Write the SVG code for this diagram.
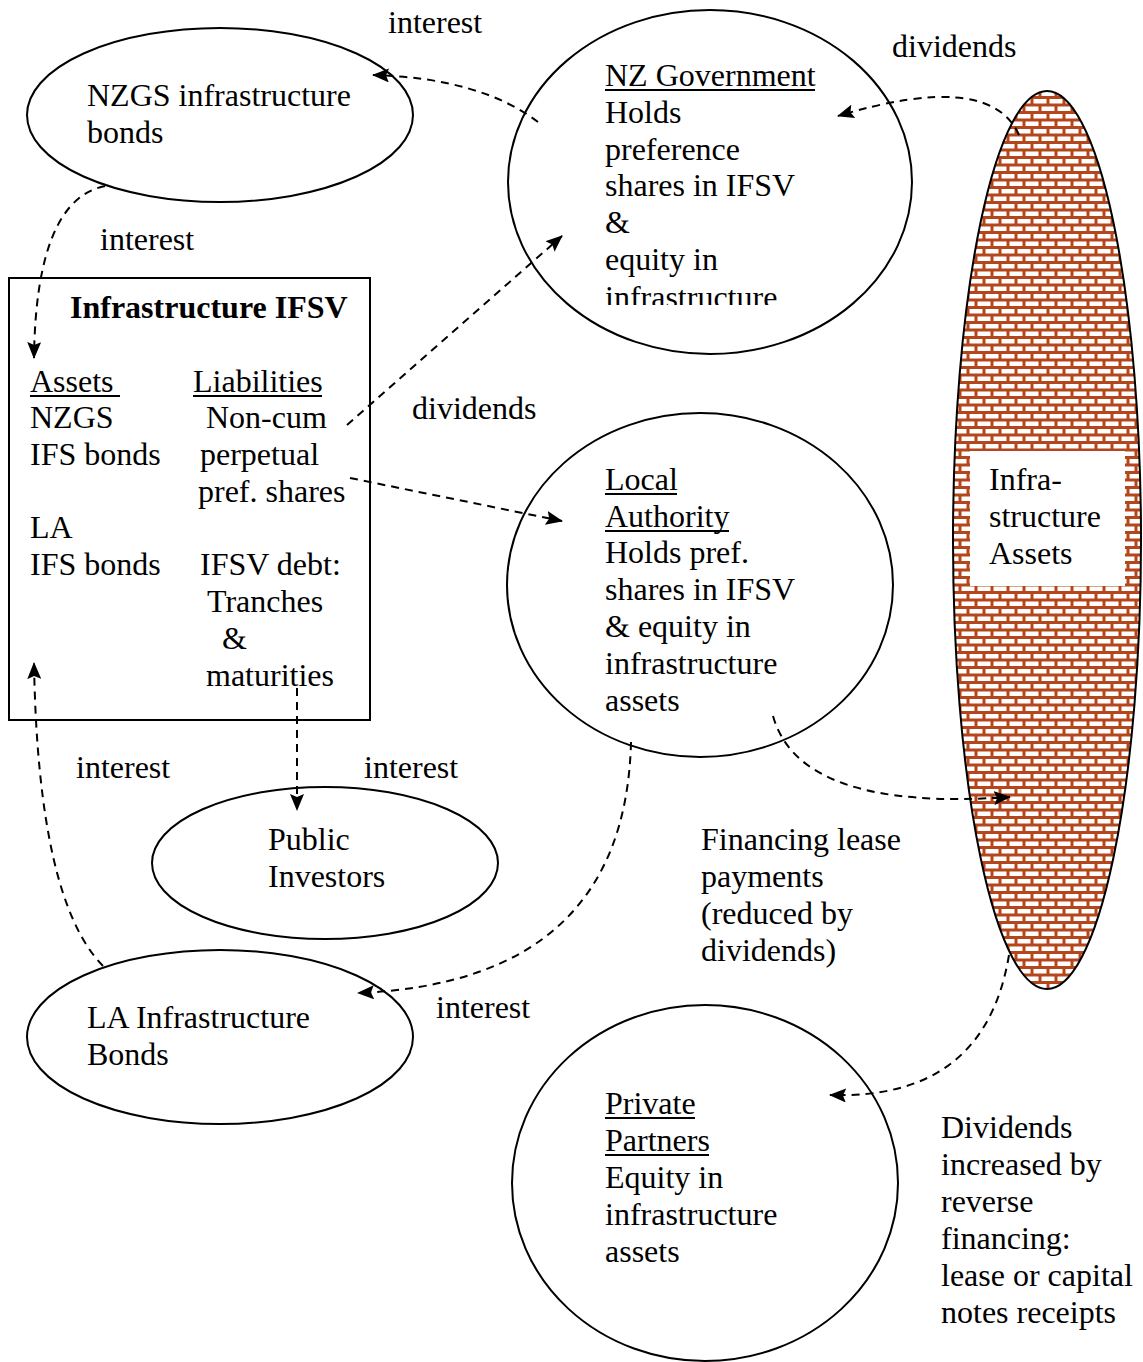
<svg xmlns="http://www.w3.org/2000/svg" width="1143" height="1362" viewBox="0 0 1143 1362">
<style>
text{font-family:"Liberation Serif","Times New Roman",serif;font-size:32px;fill:#000}
.b{font-weight:bold}
.shape{fill:#fff;stroke:#000;stroke-width:2}
.ul{stroke:#000;stroke-width:2}
.con{fill:none;stroke:#000;stroke-width:2;stroke-dasharray:8 6}
</style>
<defs>
<marker id="ah" markerWidth="18" markerHeight="14" refX="16" refY="7" orient="auto" markerUnits="userSpaceOnUse">
<path d="M0,0 L17,7 L0,14 L3,7 z" fill="#000"/>
</marker>
<pattern id="brick" width="16" height="15" patternUnits="userSpaceOnUse" x="0" y="0">
<rect width="16" height="15" fill="#b5461c"/>
<rect x="1.5" y="1.5" width="13" height="4.5" fill="#fff"/>
<rect x="9.5" y="9" width="13" height="4.5" fill="#fff"/>
<rect x="-6.5" y="9" width="13" height="4.5" fill="#fff"/>
</pattern>
<clipPath id="govclip"><rect x="500" y="0" width="420" height="305"/></clipPath>
</defs>

<g id="nzgs-bonds">
<ellipse class="shape" cx="220" cy="115" rx="193" ry="87"/>
<text x="87" y="106">NZGS infrastructure</text>
<text x="87" y="143">bonds</text>
</g>

<g id="nz-government">
<ellipse class="shape" cx="710" cy="182" rx="202" ry="172"/>
<text x="605" y="86">NZ Government</text>
<line class="ul" x1="605" y1="90" x2="815" y2="90"/>
<text x="605" y="123">Holds</text>
<text x="605" y="160">preference</text>
<text x="605" y="196">shares in IFSV</text>
<text x="605" y="233">&amp;</text>
<text x="605" y="270">equity in</text>
<text x="605" y="308" clip-path="url(#govclip)">infrastructure</text>
</g>

<g id="infra-assets">
<ellipse cx="1047" cy="540" rx="94" ry="449" fill="url(#brick)" stroke="#000" stroke-width="2"/>
<rect x="970" y="451" width="155" height="135" fill="#fff"/>
<text x="989" y="490">Infra-</text>
<text x="989" y="527">structure</text>
<text x="989" y="564">Assets</text>
</g>

<g id="ifsv">
<rect class="shape" x="9" y="278" width="361" height="442"/>
<text class="b" x="70" y="318">Infrastructure IFSV</text>
<text x="30" y="392">Assets</text>
<line class="ul" x1="30" y1="396" x2="120" y2="396"/>
<text x="193" y="392">Liabilities</text>
<line class="ul" x1="193" y1="396" x2="322" y2="396"/>
<text x="30" y="428">NZGS</text>
<text x="30" y="465">IFS bonds</text>
<text x="30" y="538">LA</text>
<text x="30" y="575">IFS bonds</text>
<text x="206" y="428">Non-cum</text>
<text x="200" y="465">perpetual</text>
<text x="198" y="502">pref. shares</text>
<text x="200" y="575">IFSV debt:</text>
<text x="207" y="612">Tranches</text>
<text x="222" y="649">&amp;</text>
<text x="206" y="686">maturities</text>
</g>

<g id="local-authority">
<ellipse class="shape" cx="700" cy="585" rx="193" ry="172"/>
<text x="605" y="490">Local</text>
<line class="ul" x1="605" y1="494" x2="677" y2="494"/>
<text x="605" y="527">Authority</text>
<line class="ul" x1="605" y1="531" x2="729" y2="531"/>
<text x="605" y="563">Holds pref.</text>
<text x="605" y="600">shares in IFSV</text>
<text x="605" y="637">&amp; equity in</text>
<text x="605" y="674">infrastructure</text>
<text x="605" y="711">assets</text>
</g>

<g id="public-investors">
<ellipse class="shape" cx="325" cy="863" rx="173" ry="76"/>
<text x="268" y="850">Public</text>
<text x="268" y="887">Investors</text>
</g>

<g id="la-bonds">
<ellipse class="shape" cx="220" cy="1037" rx="193" ry="87"/>
<text x="87" y="1028">LA Infrastructure</text>
<text x="87" y="1065">Bonds</text>
</g>

<g id="private-partners">
<ellipse class="shape" cx="705" cy="1183" rx="193" ry="178"/>
<text x="605" y="1114">Private</text>
<line class="ul" x1="605" y1="1118" x2="695" y2="1118"/>
<text x="605" y="1151">Partners</text>
<line class="ul" x1="605" y1="1155" x2="709" y2="1155"/>
<text x="605" y="1188">Equity in</text>
<text x="605" y="1225">infrastructure</text>
<text x="605" y="1262">assets</text>
</g>

<g id="connectors">
<path class="con" d="M538,122 Q480,78 373,75" marker-end="url(#ah)"/>
<path class="con" d="M105,186 Q36,200 34,358" marker-end="url(#ah)"/>
<path class="con" d="M347,425 L562,236" marker-end="url(#ah)"/>
<path class="con" d="M350,478 L562,521" marker-end="url(#ah)"/>
<path class="con" d="M1019,135 Q990,70 838,116" marker-end="url(#ah)"/>
<path class="con" d="M297,688 L297,810" marker-end="url(#ah)"/>
<path class="con" d="M103,966 Q38,900 34,663" marker-end="url(#ah)"/>
<path class="con" d="M631,742 Q625,982 358,993" marker-end="url(#ah)"/>
<path class="con" d="M773,716 Q800,812 1010,797" marker-end="url(#ah)"/>
<path class="con" d="M1009,955 Q985,1100 830,1095" marker-end="url(#ah)"/>
</g>

<g id="labels">
<text x="388" y="33">interest</text>
<text x="892" y="57">dividends</text>
<text x="100" y="250">interest</text>
<text x="412" y="419">dividends</text>
<text x="76" y="778">interest</text>
<text x="364" y="778">interest</text>
<text x="436" y="1018">interest</text>
<text x="701" y="850">Financing lease</text>
<text x="701" y="887">payments</text>
<text x="701" y="924">(reduced by</text>
<text x="701" y="961">dividends)</text>
<text x="941" y="1138">Dividends</text>
<text x="941" y="1175">increased by</text>
<text x="941" y="1212">reverse</text>
<text x="941" y="1249">financing:</text>
<text x="941" y="1286">lease or capital</text>
<text x="941" y="1323">notes receipts</text>
</g>
</svg>
